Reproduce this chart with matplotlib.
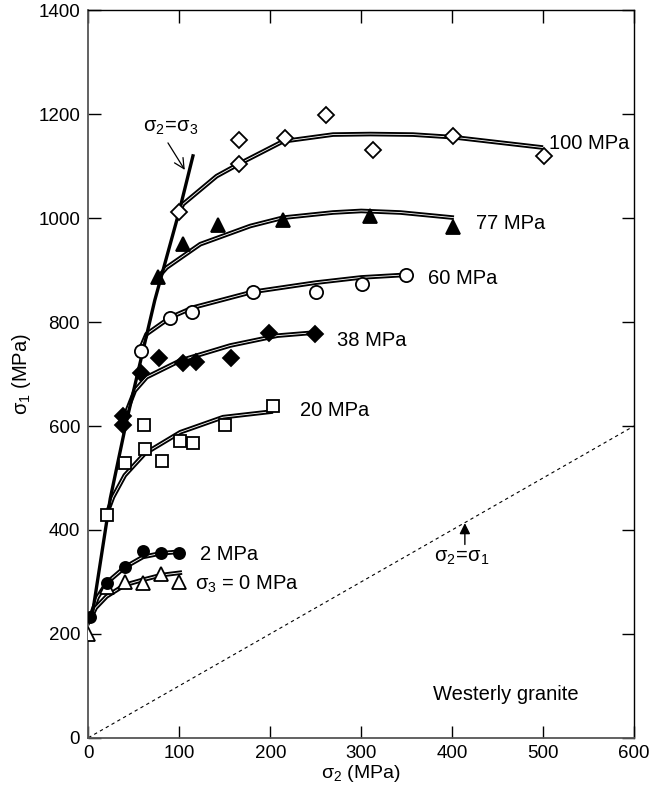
import matplotlib
matplotlib.use('Agg')
import matplotlib.pyplot as plt

plt.rcParams['font.family'] = ['Liberation Sans', 'DejaVu Sans']
plt.rcParams['mathtext.fontset'] = 'custom'
plt.rcParams['mathtext.rm'] = 'Liberation Sans'
plt.rcParams['mathtext.it'] = 'Liberation Sans'

# measured points (sigma2, sigma1) in MPa
m0_x = [0, 20, 40, 60, 80, 100]
m0_y = [200, 290, 300, 298, 315, 300]
m2_x = [2, 20, 40, 60, 80, 100]
m2_y = [232, 297, 329, 359, 356, 355]
m20_x = [21, 40, 61, 62, 81, 101, 115, 150, 203]
m20_y = [428, 529, 601, 556, 533, 572, 568, 602, 638]
m38_x = [38, 38, 58, 78, 104, 118, 157, 199, 249]
m38_y = [602, 619, 703, 731, 721, 723, 731, 780, 778]
m60_x = [58, 90, 114, 181, 250, 301, 349]
m60_y = [745, 808, 820, 858, 858, 874, 891]
m77_x = [77, 104, 143, 214, 310, 401]
m77_y = [887, 950, 987, 996, 1004, 983]
m100_x = [100, 166, 166, 216, 261, 313, 401, 501]
m100_y = [1012, 1104, 1150, 1155, 1198, 1132, 1158, 1119]

# fitted curves
c0_x = [2, 8, 20, 40, 60, 80, 103]
c0_y = [228, 250, 272, 294, 304, 313, 318]
c2_x = [2, 10, 20, 40, 60, 80, 100]
c2_y = [232, 270, 298, 328, 348, 355, 358]
c20_x = [20, 27, 40, 62, 101, 148, 203]
c20_y = [430, 463, 505, 547, 588, 617, 628]
c38_x = [38, 51, 64, 101, 156, 208, 250]
c38_y = [610, 668, 694, 726, 755, 774, 780]
c60_x = [57, 64, 90, 115, 180, 250, 300, 349]
c60_y = [748, 777, 809, 828, 858, 876, 886, 891]
c77_x = [77, 86, 123, 178, 214, 269, 300, 343, 402]
c77_y = [887, 905, 950, 985, 1001, 1011, 1014, 1011, 1001]
c100_x = [100, 104, 141, 165, 214, 269, 310, 357, 401, 500]
c100_y = [1012, 1027, 1081, 1104, 1148, 1161, 1162, 1161, 1156, 1136]

# sigma2 = sigma3 line
eq_x = [0, 5, 24, 42, 60, 73, 100, 115]
eq_y = [220, 245, 460, 610, 745, 842, 1014, 1120]

fig = plt.figure(figsize=(6.49, 7.89), dpi=100)
ax = fig.add_axes([0.1362, 0.0650, 0.8407, 0.9218])

# sigma2 = sigma1 reference
ax.plot([0, 600], [0, 600], color='black', lw=0.8, linestyle=(0, (3, 3)))

# double-line curves
for cx, cy in [(c0_x, c0_y), (c2_x, c2_y), (c20_x, c20_y), (c38_x, c38_y),
               (c60_x, c60_y), (c77_x, c77_y), (c100_x, c100_y)]:
    ax.plot(cx, cy, color='black', lw=3.3, solid_capstyle='butt',
            solid_joinstyle='round', zorder=2)
    ax.plot(cx, cy, color='white', lw=0.6, solid_capstyle='butt',
            solid_joinstyle='round', zorder=2.1)

ax.plot(eq_x, eq_y, color='black', lw=2.4, zorder=2.2)

mk = dict(linestyle='none', markeredgecolor='black', markeredgewidth=1.3, zorder=3)
ax.plot(m0_x, m0_y, marker='^', markersize=10, markerfacecolor='white', **mk)
ax.plot(m2_x, m2_y, marker='o', markersize=8, markerfacecolor='black', **mk)
ax.plot(m20_x, m20_y, marker='s', markersize=9, markerfacecolor='white', **mk)
ax.plot(m38_x, m38_y, marker='D', markersize=8.5, markerfacecolor='black', **mk)
ax.plot(m60_x, m60_y, marker='o', markersize=9.5, markerfacecolor='white', **mk)
ax.plot(m77_x, m77_y, marker='^', markersize=10, markerfacecolor='black', **mk)
ax.plot(m100_x, m100_y, marker='D', markersize=8.5, markerfacecolor='white', **mk)

fs = 14.5
ax.text(507, 1143, '100 MPa', fontsize=fs, va='center')
ax.text(426, 990, '77 MPa', fontsize=fs, va='center')
ax.text(373, 883, '60 MPa', fontsize=fs, va='center')
ax.text(273, 765, '38 MPa', fontsize=fs, va='center')
ax.text(233, 630, '20 MPa', fontsize=fs, va='center')
ax.text(123, 353, '2 MPa', fontsize=fs, va='center')
ax.text(117, 296, r'$\sigma_3$ = 0 MPa', fontsize=fs, va='center')
ax.text(121, 1175, r'$\sigma_2\!=\!\sigma_3$', fontsize=fs, ha='right', va='center')
ax.text(410, 347, r'$\sigma_2\!=\!\sigma_1$', fontsize=fs, ha='center', va='center')
ax.text(459, 83, 'Westerly granite', fontsize=fs, ha='center', va='center')

ax.annotate('', xy=(106, 1093), xytext=(87.5, 1145),
            arrowprops=dict(arrowstyle='->', color='black', lw=0.9,
                            mutation_scale=18, shrinkA=0, shrinkB=0))
ax.annotate('', xy=(414, 413), xytext=(414, 372),
            arrowprops=dict(arrowstyle='-|>', color='black', lw=1.0,
                            mutation_scale=16, shrinkA=0, shrinkB=0))

ax.set_xlim(0, 600)
ax.set_ylim(0, 1400)
ax.set_xticks(range(0, 601, 100))
ax.set_yticks(range(0, 1401, 200))
ax.tick_params(direction='in', length=9, width=1.0, labelsize=13.5,
               top=True, right=True, pad=6)
ax.tick_params(axis='x', pad=5)
for side in ['left', 'bottom']:
    ax.spines[side].set_color('#555555')
    ax.spines[side].set_linewidth(1.3)
for side in ['top', 'right']:
    ax.spines[side].set_linewidth(1.0)

ax.set_xlabel(r'$\sigma_2$ (MPa)', fontsize=14, labelpad=1)
ax.set_ylabel(r'$\sigma_1$ (MPa)', fontsize=14.5, labelpad=4)

plt.savefig('out.png', dpi=100)
